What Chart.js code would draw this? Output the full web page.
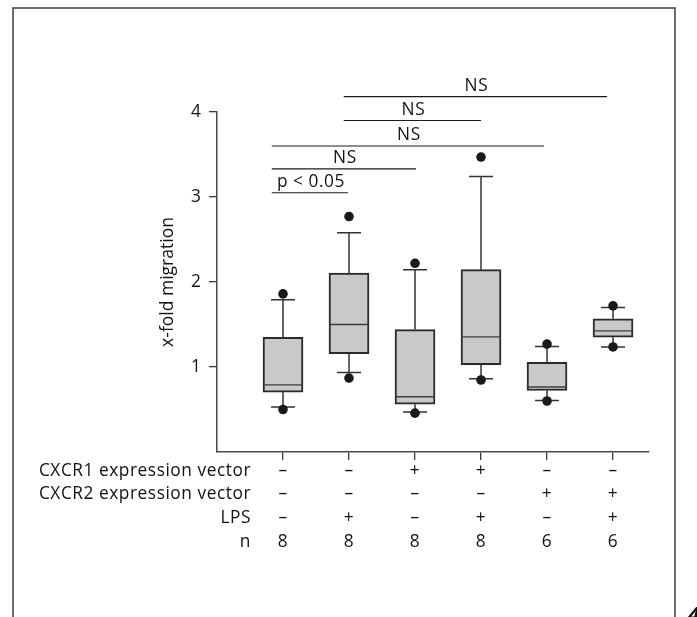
<!DOCTYPE html>
<html>
<head>
<meta charset="utf-8">
<script src="https://cdn.jsdelivr.net/npm/chart.js@4.4.1/dist/chart.umd.min.js"></script>
<style>
  html, body { margin: 0; padding: 0; background: #fff; }
  canvas { display: block; }
</style>
</head>
<body>
<canvas id="migrationChart" width="697" height="617"></canvas>
<script>
// groups along the x axis
const categories = [1, 2, 3, 4, 5, 6];

// box plot values
const q1 = [0.705, 1.157, 0.563, 1.027, 0.724, 1.35];
const median = [0.79, 1.50, 0.65, 1.354, 0.764, 1.425];
const q3 = [1.35, 2.105, 1.44, 2.145, 1.054, 1.567];
const whiskerLow = [0.53, 0.936, 0.47, 0.862, 0.606, 1.236];
const whiskerHigh = [1.79, 2.58, 2.145, 3.24, 1.24, 1.70];
const outlierLow = [0.50, 0.87, 0.457, 0.847, 0.60, 1.236];
const outlierHigh = [1.86, 2.77, 2.22, 3.47, 1.27, 1.72];

const yTicks = [1, 2, 3, 4];

// significance brackets
const sigStart = [0.83, 0.83, 0.83, 1.92, 1.92];
const sigEnd = [1.985, 3.015, 4.955, 4.0, 5.91];
const sigLevel = [3.05, 3.33, 3.60, 3.90, 4.18];
const sigLabel = ['p < 0.05', 'NS', 'NS', 'NS', 'NS'];

// condition table under the axis
const rowLabels = ['CXCR1 expression vector', 'CXCR2 expression vector', 'LPS', 'n'];
const cxcr1 = ['–', '–', '+', '+', '–', '–'];
const cxcr2 = ['–', '–', '–', '–', '+', '+'];
const lps = ['–', '+', '–', '+', '–', '+'];
const nValues = ['8', '8', '8', '8', '6', '6'];
const tableRows = [cxcr1, cxcr2, lps, nValues];

const textColor = '#111';
const lineColor = '#333';
const fontFamily = '"Open Sans", "Noto Sans", sans-serif';
const fontSize = 17.3;

const outlierPoints = [];
categories.forEach((c, i) => {
  outlierPoints.push({ x: c, y: outlierHigh[i] });
  outlierPoints.push({ x: c, y: outlierLow[i] });
});

const sigDatasets = sigStart.map((s, i) => ({
  type: 'line',
  data: [{ x: s, y: sigLevel[i] }, { x: sigEnd[i], y: sigLevel[i] }],
  borderColor: '#1a1a1a',
  borderWidth: 1.2,
  pointRadius: 0,
  clip: false,
  order: 1
}));

const framePlugin = {
  id: 'frame',
  beforeDraw(chart) {
    const { ctx } = chart;
    ctx.save();
    ctx.strokeStyle = '#5e5e5e';
    ctx.lineWidth = 1.8;
    ctx.strokeRect(13, 8, 662, 700);
    ctx.fillStyle = '#111';
    ctx.font = 'bold italic 21px ' + fontFamily;
    ctx.textAlign = 'left';
    ctx.textBaseline = 'alphabetic';
    ctx.fillText('4', 688, 622);
    ctx.restore();
  }
};

const boxPlugin = {
  id: 'boxWhiskers',
  beforeDatasetsDraw(chart) {
    const { ctx, scales: { x, y } } = chart;
    ctx.save();
    ctx.strokeStyle = lineColor;
    ctx.lineWidth = 1.5;
    categories.forEach((c, i) => {
      const px = x.getPixelForValue(c);
      const yHi = y.getPixelForValue(whiskerHigh[i]);
      const yLo = y.getPixelForValue(whiskerLow[i]);
      ctx.beginPath();
      ctx.moveTo(px, y.getPixelForValue(q3[i]));
      ctx.lineTo(px, yHi);
      ctx.moveTo(px, y.getPixelForValue(q1[i]));
      ctx.lineTo(px, yLo);
      ctx.moveTo(px - 12, yHi);
      ctx.lineTo(px + 12, yHi);
      ctx.moveTo(px - 12, yLo);
      ctx.lineTo(px + 12, yLo);
      ctx.stroke();
    });
    ctx.restore();
  },
  afterDatasetsDraw(chart) {
    const { ctx, scales: { x, y } } = chart;
    ctx.save();
    ctx.strokeStyle = '#3c3c3c';
    ctx.lineWidth = 1.4;
    categories.forEach((c, i) => {
      const px = x.getPixelForValue(c);
      const py = y.getPixelForValue(median[i]);
      ctx.beginPath();
      ctx.moveTo(px - 19, py);
      ctx.lineTo(px + 19, py);
      ctx.stroke();
    });
    ctx.restore();
  }
};

const labelPlugin = {
  id: 'labels',
  afterDraw(chart) {
    const { ctx, chartArea, scales: { x, y } } = chart;
    ctx.save();
    ctx.fillStyle = textColor;
    ctx.font = fontSize + 'px ' + fontFamily;
    ctx.textBaseline = 'alphabetic';
    ctx.letterSpacing = '0.55px';

    // significance labels above the brackets
    ctx.textAlign = 'center';
    sigLabel.forEach((label, i) => {
      const cx = (x.getPixelForValue(sigStart[i]) + x.getPixelForValue(sigEnd[i])) / 2;
      ctx.fillText(label, cx + 1, y.getPixelForValue(sigLevel[i]) - 6);
    });

    // table rows
    tableRows.forEach((row, r) => {
      const baseY = chartArea.bottom + 23.5 + r * 23.8;
      ctx.textAlign = 'right';
      ctx.fillText(rowLabels[r], 251, baseY);
      ctx.textAlign = 'center';
      row.forEach((val, i) => {
        ctx.fillText(val, x.getPixelForValue(categories[i]), baseY);
      });
    });
    ctx.restore();
  }
};

new Chart(document.getElementById('migrationChart'), {
  type: 'bar',
  data: {
    datasets: [
      {
        type: 'scatter',
        data: outlierPoints,
        pointRadius: 4.8,
        pointBackgroundColor: '#1a1a1a',
        pointBorderWidth: 0,
        order: 0
      },
      {
        type: 'bar',
        data: categories.map((c, i) => ({ x: c, y: [q1[i], q3[i]] })),
        backgroundColor: '#c8c9cb',
        borderColor: '#2a2a2a',
        borderWidth: 2,
        borderSkipped: false,
        barThickness: 40,
        order: 2
      },
      ...sigDatasets
    ]
  },
  options: {
    responsive: false,
    animation: false,
    devicePixelRatio: 1,
    layout: { padding: { left: 150, right: 48, top: 112, bottom: 0 } },
    plugins: {
      legend: { display: false },
      tooltip: { enabled: false }
    },
    scales: {
      x: {
        type: 'linear',
        min: 0,
        max: 6.545,
        offset: false,
        afterBuildTicks: (scale) => { scale.ticks = categories.map(v => ({ value: v })); },
        afterFit: (scale) => { scale.height = 165; },
        ticks: { display: false },
        grid: { offset: false, drawOnChartArea: false, drawTicks: true, tickLength: 8, color: '#3a3a3a', lineWidth: 1.3 },
        border: { display: true, color: '#4a4a4a', width: 1.5 }
      },
      y: {
        min: 0,
        max: 4,
        afterBuildTicks: (scale) => { scale.ticks = yTicks.map(v => ({ value: v })); },
        afterFit: (scale) => { scale.width = 67; },
        ticks: {
          color: textColor,
          padding: 8,
          font: { family: fontFamily, size: 17.3 }
        },
        grid: { drawOnChartArea: false, drawTicks: true, tickLength: 8, color: '#3a3a3a', lineWidth: 1.3 },
        border: { display: true, color: '#4a4a4a', width: 1.5 },
        title: {
          display: true,
          text: 'x-fold migration',
          color: textColor,
          font: { family: fontFamily, size: 17.5 },
          padding: { top: 8, bottom: 0 }
        }
      }
    }
  },
  plugins: [framePlugin, boxPlugin, labelPlugin]
});
</script>
</body>
</html>
